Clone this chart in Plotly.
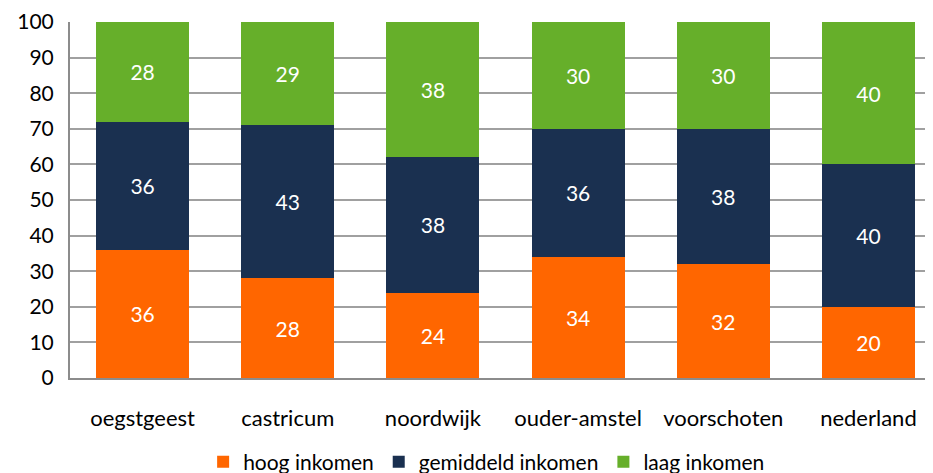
import plotly.graph_objects as go

# gemeenten en percentages per inkomensgroep
gemeenten = ['oegstgeest', 'castricum', 'noordwijk', 'ouder-amstel', 'voorschoten', 'nederland']
hoog = [36, 28, 24, 34, 32, 20]
gemiddeld = [36, 43, 38, 36, 38, 40]
laag = [28, 29, 38, 30, 30, 40]

reeksen = [
    ('hoog inkomen', hoog, '#FF6600'),
    ('gemiddeld inkomen', gemiddeld, '#1A3050'),
    ('laag inkomen', laag, '#66AF2A'),
]

font_naam = 'Lato, Open Sans, sans-serif'

fig = go.Figure()
for naam, waarden, kleur in reeksen:
    fig.add_trace(go.Bar(
        x=gemeenten, y=waarden, name=naam,
        marker_color=kleur, marker_line_width=0,
        text=waarden, textposition='inside', insidetextanchor='middle',
        textfont=dict(color='white', size=21, family=font_naam),
        width=0.64,
    ))

# de pagina heeft 8px body-marge, daarom iets kleinere marges links/boven
fig.update_layout(
    barmode='stack',
    width=933, height=473,
    margin=dict(l=62, r=0, t=14, b=103, autoexpand=False),
    plot_bgcolor='white', paper_bgcolor='white',
    font=dict(family=font_naam, size=21, color='black'),
    showlegend=True,
    legend=dict(
        orientation='h', xref='container', yref='container',
        x=0.513, xanchor='center', y=0.04, yanchor='middle',
        font=dict(size=21), itemwidth=30, traceorder='normal',
    ),
    uniformtext=dict(minsize=10, mode='show'),
)
fig.update_xaxes(
    range=[-0.5, 5.5], showgrid=False, showline=True,
    linecolor='#8C8C8C', linewidth=2, ticks='', ticklabelstandoff=20,
    tickfont=dict(size=22),
)
fig.update_yaxes(
    range=[0, 100], dtick=10, showgrid=True, gridcolor='#A0A0A0', gridwidth=2,
    showline=True, linecolor='#8C8C8C', linewidth=2, ticks='', ticklabelstandoff=10,
    zeroline=False,
)

fig.write_html('out.html')
